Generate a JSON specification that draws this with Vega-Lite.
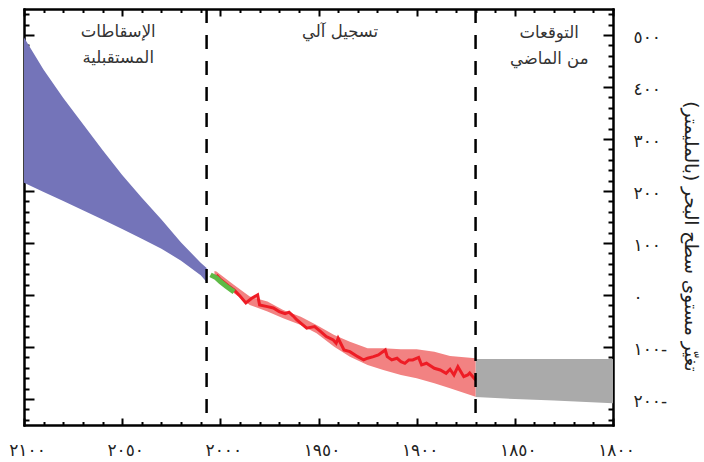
{
  "$schema": "https://vega.github.io/schema/vega-lite/v6.json",
  "autosize": {"type": "none"},
  "padding": {"left": 24, "top": 9, "right": 91, "bottom": 37},
  "width": 589,
  "height": 416,
  "background": "white",
  "config": {
    "view": {"stroke": null},
    "axis": {"grid": false, "domainColor": "black", "domainWidth": 2, "domainCap": "square", "tickColor": "black", "tickWidth": 2, "labelFont": "DejaVu Sans", "labelFontSize": 17, "labelColor": "#222222", "titleFont": "DejaVu Sans", "titleFontWeight": "normal", "titleColor": "#222222"}
  },
  "datasets": {
    "blue": [
      {"year": 2100, "lo": 216, "hi": 495},
      {"year": 2090, "lo": 198, "hi": 433},
      {"year": 2080, "lo": 181, "hi": 379},
      {"year": 2070, "lo": 163, "hi": 329},
      {"year": 2060, "lo": 145, "hi": 279},
      {"year": 2050, "lo": 127, "hi": 231},
      {"year": 2040, "lo": 108, "hi": 187},
      {"year": 2030, "lo": 89, "hi": 145},
      {"year": 2020, "lo": 66, "hi": 101},
      {"year": 2010, "lo": 38, "hi": 62},
      {"year": 2007, "lo": 25, "hi": 52}
    ],
    "gray": [
      {"year": 1870, "lo": -196, "hi": -123},
      {"year": 1850, "lo": -200, "hi": -123},
      {"year": 1830, "lo": -203, "hi": -123},
      {"year": 1800, "lo": -208, "hi": -123}
    ],
    "band": [
      {"year": 2003, "lo": 34, "hi": 46},
      {"year": 2002, "lo": 32, "hi": 45},
      {"year": 1993, "lo": 3.5, "hi": 19.4},
      {"year": 1985, "lo": -19.1, "hi": -3.1},
      {"year": 1976, "lo": -31.9, "hi": -12.7},
      {"year": 1968, "lo": -44.6, "hi": -28.7},
      {"year": 1959, "lo": -57.5, "hi": -41.6},
      {"year": 1951, "lo": -73.5, "hi": -57.5},
      {"year": 1942, "lo": -99.3, "hi": -76.8},
      {"year": 1934, "lo": -118.6, "hi": -89.7},
      {"year": 1925, "lo": -134.6, "hi": -102.4},
      {"year": 1917, "lo": -144.2, "hi": -102.4},
      {"year": 1908, "lo": -153.8, "hi": -104.3},
      {"year": 1900, "lo": -160.1, "hi": -104.3},
      {"year": 1891, "lo": -169.7, "hi": -108.9},
      {"year": 1883, "lo": -179.4, "hi": -117.2},
      {"year": 1870, "lo": -195.5, "hi": -121.7}
    ],
    "line": [
      {"year": 2002, "v": 38.7}, {"year": 2000, "v": 30}, {"year": 1999, "v": 27}, {"year": 1996, "v": 18}, {"year": 1993, "v": 9.8},
      {"year": 1990, "v": -2}, {"year": 1987, "v": -15.2}, {"year": 1984, "v": -6.2}, {"year": 1981, "v": 0.2},
      {"year": 1980, "v": -19.1}, {"year": 1976, "v": -22.3}, {"year": 1973, "v": -25}, {"year": 1970, "v": -31.9},
      {"year": 1967, "v": -36}, {"year": 1965, "v": -33}, {"year": 1963, "v": -40}, {"year": 1961, "v": -48},
      {"year": 1956, "v": -63.9}, {"year": 1952, "v": -60.8}, {"year": 1949, "v": -70}, {"year": 1946, "v": -80},
      {"year": 1942.5, "v": -86.4}, {"year": 1941, "v": -92.8}, {"year": 1940, "v": -83.2}, {"year": 1937, "v": -105.7},
      {"year": 1934, "v": -108.9}, {"year": 1930, "v": -118.6}, {"year": 1927, "v": -124.9}, {"year": 1925, "v": -121.6},
      {"year": 1922, "v": -118.6}, {"year": 1919.5, "v": -115.3}, {"year": 1916, "v": -105.7}, {"year": 1915, "v": -118.6},
      {"year": 1912.7, "v": -124.9}, {"year": 1910, "v": -121.7}, {"year": 1908, "v": -128.2}, {"year": 1906, "v": -131.3},
      {"year": 1904, "v": -124.9}, {"year": 1902, "v": -124.9}, {"year": 1899, "v": -120}, {"year": 1897.5, "v": -134.5},
      {"year": 1895, "v": -131.3}, {"year": 1891, "v": -140.9}, {"year": 1888, "v": -144.2}, {"year": 1885, "v": -150.5},
      {"year": 1883, "v": -142.8}, {"year": 1881, "v": -153.8}, {"year": 1879, "v": -137.8}, {"year": 1876, "v": -157},
      {"year": 1874, "v": -153.8}, {"year": 1873, "v": -150}, {"year": 1870, "v": -163.4}
    ],
    "green": [
      {"year": 2005, "v": 38.7}, {"year": 2002, "v": 33}, {"year": 2000, "v": 25.8}, {"year": 1997, "v": 17}, {"year": 1993, "v": 6}
    ],
    "rules": [{"year": 2007}, {"year": 1870}],
    "labels": [
      {"year": 2052, "v": 506, "t": "الإسقاطات"},
      {"year": 2052, "v": 456, "t": "المستقبلية"},
      {"year": 1939, "v": 506, "t": "تسجيل آلي"},
      {"year": 1832.5, "v": 504, "t": "التوقعات"},
      {"year": 1832.5, "v": 453, "t": "من الماضي"}
    ]
  },
  "resolve": {"scale": {"x": "independent", "y": "independent"}, "axis": {"x": "independent", "y": "independent"}},
  "layer": [
    {
      "data": {"name": "blue"},
      "mark": {"type": "area", "color": "#7474b9", "opacity": 1},
      "encoding": {
        "x": {"field": "year", "type": "quantitative", "scale": {"domain": [1800, 2100], "reverse": true, "nice": false, "zero": false},
          "axis": {"orient": "bottom", "values": [2100, 2050, 2000, 1950, 1900, 1850, 1800], "ticks": false, "domain": false, "labelPadding": 25, "labelOffset": 3, "labelBaseline": "middle", "labelAlign": "center", "title": null,
            "labelExpr": "replace(replace(replace(replace(replace(replace(replace(replace(replace(replace(toString(datum.value),regexp('0','g'),'٠'),regexp('1','g'),'١'),regexp('2','g'),'٢'),regexp('3','g'),'٣'),regexp('4','g'),'٤'),regexp('5','g'),'٥'),regexp('6','g'),'٦'),regexp('7','g'),'٧'),regexp('8','g'),'٨'),regexp('9','g'),'٩')"}},
        "y": {"field": "lo", "type": "quantitative", "scale": {"domain": [-250, 550], "nice": false, "zero": false},
          "axis": {"orient": "right", "values": [-200, -100, 0, 100, 200, 300, 400, 500], "ticks": false, "domain": false, "labelPadding": 20, "labelAlign": "left", "labelBaseline": "middle", "labelOffset": 2,
            "title": "تغيّر مستوى سطح البحر (بالمليمتر)", "titleFontSize": 18.5, "titleAngle": 90, "titleX": 77, "titleY": 227, "titleAlign": "center", "titleBaseline": "middle",
            "labelExpr": "replace(replace(replace(replace(replace(replace(replace(replace(replace(replace(toString(abs(datum.value)),regexp('0','g'),'٠'),regexp('1','g'),'١'),regexp('2','g'),'٢'),regexp('3','g'),'٣'),regexp('4','g'),'٤'),regexp('5','g'),'٥'),regexp('6','g'),'٦'),regexp('7','g'),'٧'),regexp('8','g'),'٨'),regexp('9','g'),'٩') + (datum.value < 0 ? '-' : '')"}},
        "y2": {"field": "hi"}
      }
    },
    {
      "data": {"name": "gray"},
      "mark": {"type": "area", "color": "#aaaaaa", "opacity": 1},
      "encoding": {
        "x": {"field": "year", "type": "quantitative", "scale": {"domain": [1800, 2100], "reverse": true, "nice": false, "zero": false},
          "axis": {"orient": "bottom", "values": [2100, 2050, 2000, 1950, 1900, 1850, 1800], "labels": false, "tickSize": -7, "title": null}},
        "y": {"field": "lo", "type": "quantitative", "scale": {"domain": [-250, 550], "nice": false, "zero": false},
          "axis": {"orient": "right", "values": [-200, -100, 0, 100, 200, 300, 400, 500], "labels": false, "tickSize": -10, "title": null}},
        "y2": {"field": "hi"}
      }
    },
    {
      "data": {"name": "band"},
      "mark": {"type": "area", "color": "#f28282", "opacity": 1},
      "encoding": {
        "x": {"field": "year", "type": "quantitative", "scale": {"domain": [1800, 2100], "reverse": true, "nice": false, "zero": false},
          "axis": {"orient": "bottom", "values": [2090, 2080, 2070, 2060, 2040, 2030, 2020, 2010, 1990, 1980, 1970, 1960, 1940, 1930, 1920, 1910, 1890, 1880, 1870, 1860, 1840, 1830, 1820, 1810], "labels": false, "tickSize": -3.5, "title": null}},
        "y": {"field": "lo", "type": "quantitative", "scale": {"domain": [-250, 550], "nice": false, "zero": false},
          "axis": {"orient": "right", "values": [-240, -220, -180, -160, -140, -120, -80, -60, -40, -20, 20, 40, 60, 80, 120, 140, 160, 180, 220, 240, 260, 280, 320, 340, 360, 380, 420, 440, 460, 480, 520, 540], "labels": false, "tickSize": -5, "title": null}},
        "y2": {"field": "hi"}
      }
    },
    {
      "data": {"name": "line"},
      "mark": {"type": "line", "color": "#ee1c25", "strokeWidth": 3, "strokeJoin": "miter"},
      "encoding": {
        "x": {"field": "year", "type": "quantitative", "scale": {"domain": [1800, 2100], "reverse": true, "nice": false, "zero": false},
          "axis": {"orient": "top", "values": [2100, 2050, 2000, 1950, 1900, 1850, 1800], "labels": false, "tickSize": -7, "title": null}},
        "y": {"field": "v", "type": "quantitative", "scale": {"domain": [-250, 550], "nice": false, "zero": false},
          "axis": {"orient": "left", "values": [-200, -100, 0, 100, 200, 300, 400, 500], "labels": false, "tickSize": -10, "title": null}}
      }
    },
    {
      "data": {"name": "green"},
      "mark": {"type": "line", "color": "#5fba46", "strokeWidth": 5},
      "encoding": {
        "x": {"field": "year", "type": "quantitative", "scale": {"domain": [1800, 2100], "reverse": true, "nice": false, "zero": false},
          "axis": {"orient": "top", "values": [2090, 2080, 2070, 2060, 2040, 2030, 2020, 2010, 1990, 1980, 1970, 1960, 1940, 1930, 1920, 1910, 1890, 1880, 1870, 1860, 1840, 1830, 1820, 1810], "labels": false, "tickSize": -3.5, "title": null}},
        "y": {"field": "v", "type": "quantitative", "scale": {"domain": [-250, 550], "nice": false, "zero": false},
          "axis": {"orient": "left", "values": [-240, -220, -180, -160, -140, -120, -80, -60, -40, -20, 20, 40, 60, 80, 120, 140, 160, 180, 220, 240, 260, 280, 320, 340, 360, 380, 420, 440, 460, 480, 520, 540], "labels": false, "tickSize": -5, "title": null}}
      }
    },
    {
      "data": {"name": "rules"},
      "mark": {"type": "rule", "color": "black", "strokeWidth": 2.5, "strokeDash": [14, 12]},
      "encoding": {
        "x": {"field": "year", "type": "quantitative", "scale": {"domain": [1800, 2100], "reverse": true, "nice": false, "zero": false}, "axis": null}
      }
    },
    {
      "data": {"name": "labels"},
      "mark": {"type": "text", "font": "DejaVu Sans", "fontSize": 16.5, "color": "#333333", "align": "center", "baseline": "middle"},
      "encoding": {
        "x": {"field": "year", "type": "quantitative", "scale": {"domain": [1800, 2100], "reverse": true, "nice": false, "zero": false}, "axis": null},
        "y": {"field": "v", "type": "quantitative", "scale": {"domain": [-250, 550], "nice": false, "zero": false}, "axis": null},
        "text": {"field": "t"}
      }
    }
  ]
}
